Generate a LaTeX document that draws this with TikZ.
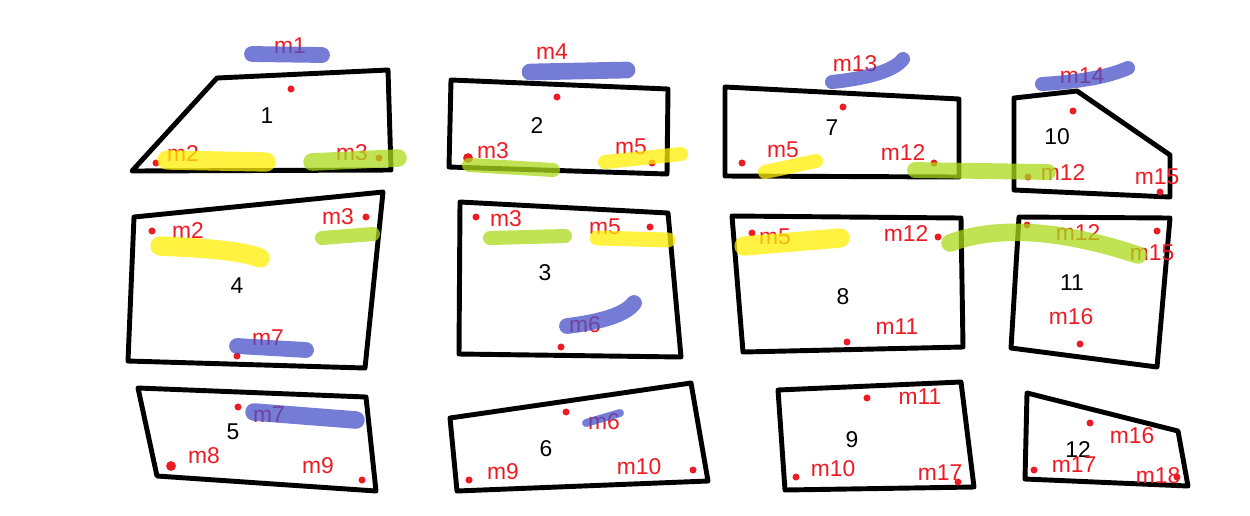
\documentclass[tikz,border=0pt]{standalone}
\usepackage{fontspec}
\setmainfont{Liberation Sans}
\definecolor{mred}{RGB}{237,28,36}
\definecolor{inkblue}{RGB}{70,80,200}
\definecolor{inkyellow}{RGB}{255,238,0}
\definecolor{inkgreen}{RGB}{170,218,25}
\begin{document}
\begin{tikzpicture}[x=0.02cm,y=-0.02cm,
    region/.style={draw=black,line width=2.8pt,line join=round},
    num/.style={text=black,font=\fontsize{13}{15}\selectfont,inner sep=0pt},
    mlab/.style={text=mred,font=\fontsize{13}{15}\selectfont,inner sep=0pt},
    mdot/.style={fill=mred},
    ink/.style={line cap=round,opacity=0.75},
    blueink/.style={ink,draw=inkblue},
    yellowink/.style={ink,draw=inkyellow},
    greenink/.style={ink,draw=inkgreen}]
    \useasboundingbox (0,0) rectangle (1250,515);

    % Draw regions
    \draw[region] (217,78) -- (388,70) -- (391,170) -- (132,171) -- cycle;
    \draw[region] (451,80) -- (668,89) -- (667,174) -- (449,167) -- cycle;
    \draw[region] (725,87) -- (959,99) -- (959,177) -- (725,176) -- cycle;
    \draw[region] (1014,98) -- (1077,91) -- (1170,155) -- (1170,197) -- (1014,190) -- cycle;
    \draw[region] (134,217) -- (383,192) -- (365,368) -- (128,361) -- cycle;
    \draw[region] (460,202) -- (668,213) -- (681,357) -- (459,354) -- cycle;
    \draw[region] (732,216) -- (961,218) -- (963,347) -- (743,352) -- cycle;
    \draw[region] (1019,217) -- (1170,218) -- (1157,367) -- (1011,348) -- cycle;
    \draw[region] (138,388) -- (366,397) -- (376,491) -- (157,476) -- cycle;
    \draw[region] (450,418) -- (691,383) -- (708,481) -- (457,491) -- cycle;
    \draw[region] (778,390) -- (961,382) -- (974,487) -- (785,490) -- cycle;
    \draw[region] (1027,393) -- (1178,431) -- (1188,486) -- (1025,479) -- cycle;

    % Draw region numbers
    \node[num] (n1) at (267,116) {1};
    \node[num] (n2) at (537,126) {2};
    \node[num] (n7) at (832,128) {7};
    \node[num] (n10) at (1057,137) {10};
    \node[num] (n4) at (237,286) {4};
    \node[num] (n3) at (545,273) {3};
    \node[num] (n8) at (843,297) {8};
    \node[num] (n11) at (1072,283) {11};
    \node[num] (n5) at (233,432) {5};
    \node[num] (n6) at (546,449) {6};
    \node[num] (n9) at (852,440) {9};
    \node[num] (n12) at (1078,450) {12};

    % Draw points
    \foreach \px/\py in {291/89, 156/163, 379/158, 557/97, 652/163,
        843/107, 742/163, 934/163, 1073/111, 1028/177, 1160/192,
        152/231, 366/217, 237/356, 476/217, 650/227, 561/347,
        752/233, 938/237, 847/342, 1027/225, 1157/231, 1080/344,
        238/407, 362/480, 566/412, 469/480, 693/470,
        867/398, 796/477, 958/482, 1090/423, 1034/470, 1177/477}
        \fill[mdot] (\px,\py) circle (2pt);
    \fill[mdot] (468,158) circle (2.8pt);
    \fill[mdot] (171,466) circle (2.8pt);

    % Draw point labels
    \node[mlab] (r1m1) at (290,46) {m1};
    \node[mlab] (r1m2) at (183,154) {m2};
    \node[mlab] (r1m3) at (352,153) {m3};
    \node[mlab] (r2m4) at (552,52) {m4};
    \node[mlab] (r2m3) at (493,151) {m3};
    \node[mlab] (r2m5) at (631,147) {m5};
    \node[mlab] (r7m13) at (855,64) {m13};
    \node[mlab] (r7m5) at (783,150) {m5};
    \node[mlab] (r7m12) at (903,153) {m12};
    \node[mlab] (r10m14) at (1082,76) {m14};
    \node[mlab] (r10m12) at (1063,173) {m12};
    \node[mlab] (r10m15) at (1157,177) {m15};
    \node[mlab] (r4m2) at (188,231) {m2};
    \node[mlab] (r4m3) at (338,217) {m3};
    \node[mlab] (r4m7) at (268,338) {m7};
    \node[mlab] (r3m3) at (506,219) {m3};
    \node[mlab] (r3m5) at (605,227) {m5};
    \node[mlab] (r3m6) at (585,325) {m6};
    \node[mlab] (r8m5) at (775,237) {m5};
    \node[mlab] (r8m12) at (906,234) {m12};
    \node[mlab] (r8m11) at (897,327) {m11};
    \node[mlab] (r11m12) at (1078,233) {m12};
    \node[mlab] (r11m15) at (1152,253) {m15};
    \node[mlab] (r11m16) at (1071,317) {m16};
    \node[mlab] (r5m7) at (269,415) {m7};
    \node[mlab] (r5m8) at (204,456) {m8};
    \node[mlab] (r5m9) at (318,466) {m9};
    \node[mlab] (r6m6) at (604,422) {m6};
    \node[mlab] (r6m9) at (503,472) {m9};
    \node[mlab] (r6m10) at (639,467) {m10};
    \node[mlab] (r9m11) at (920,397) {m11};
    \node[mlab] (r9m10) at (833,469) {m10};
    \node[mlab] (r9m17) at (940,473) {m17};
    \node[mlab] (r12m16) at (1132,436) {m16};
    \node[mlab] (r12m17) at (1074,465) {m17};
    \node[mlab] (r12m18) at (1158,476) {m18};

    % Draw highlighter strokes
    \draw[blueink,line width=9pt] (252,54) -- (322,55);
    \draw[yellowink,line width=11pt] (167,160) -- (266,162);
    \draw[greenink,line width=10pt] (312,162) -- (398,158);
    \draw[blueink,line width=9.5pt] (530,72) -- (627,70);
    \draw[greenink,line width=8pt] (469,165) -- (553,170);
    \draw[yellowink,line width=8pt] (605,162) -- (681,154);
    \draw[yellowink,line width=8pt] (765,172) -- (816,161);
    \draw[blueink,line width=8pt] (832,82) .. controls (870,78) and (895,70) .. (903,59);
    \draw[greenink,line width=9pt] (915,170) -- (1048,172);
    \draw[blueink,line width=8pt] (1042,84) .. controls (1075,82) and (1105,78) .. (1128,68);
    \draw[yellowink,line width=11pt] (160,246) .. controls (200,248) and (240,250) .. (260,258);
    \draw[greenink,line width=8pt] (322,238) -- (373,234);
    \draw[blueink,line width=9pt] (237,346) -- (306,350);
    \draw[greenink,line width=8pt] (490,238) -- (565,236);
    \draw[yellowink,line width=8.5pt] (597,238) -- (668,240);
    \draw[blueink,line width=9pt] (567,326) .. controls (600,322) and (625,315) .. (634,303);
    \draw[yellowink,line width=11pt] (744,246) -- (840,238);
    \draw[greenink,line width=10pt] (950,243) .. controls (990,228) and (1050,226) .. (1138,255);
    \draw[blueink,line width=10pt] (254,412) -- (356,420);
    \draw[blueink,line width=4.5pt] (586,423) -- (620,413);
\end{tikzpicture}
\end{document}
